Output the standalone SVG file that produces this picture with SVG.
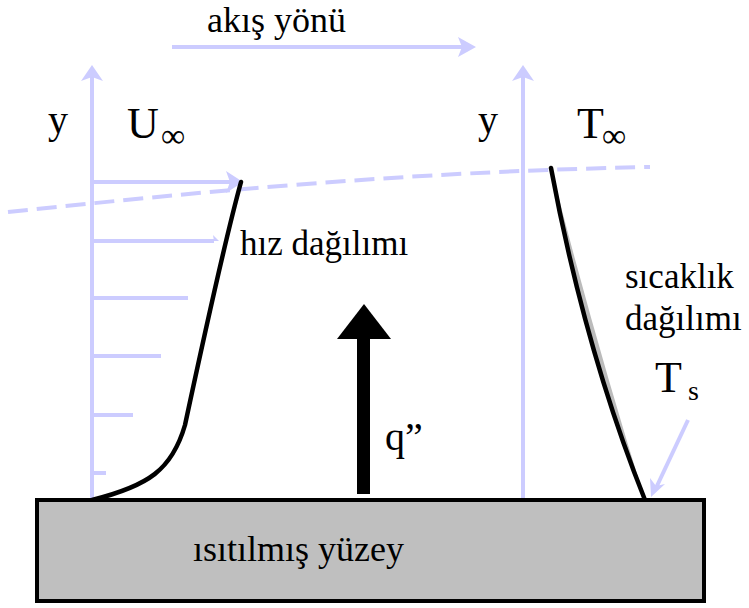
<svg xmlns="http://www.w3.org/2000/svg" width="749" height="608" viewBox="0 0 749 608">
<style>
text{font-family:'Liberation Serif','Times New Roman',serif;fill:#000}
.lv{stroke:#ccccff;stroke-width:4;fill:none}
.lvh{fill:#ccccff;stroke:none}
.bk{stroke:#000;stroke-width:4.5;fill:none;stroke-linecap:round}
</style>
<rect width="749" height="608" fill="#fff"/>
<g id="connectors">
  <line class="lv" x1="172" y1="47" x2="466" y2="47"/>
  <path class="lvh" d="M476,47 L458,37 L462,47 L458,57 Z"/>
  <line class="lv" x1="92" y1="500" x2="92" y2="74"/>
  <path class="lvh" d="M92,65 L81,81 L92,77 L103,81 Z"/>
  <line class="lv" x1="523" y1="500" x2="523" y2="74"/>
  <path class="lvh" d="M523,65 L512,81 L523,77 L534,81 Z"/>
  <line class="lv" x1="92" y1="182" x2="234" y2="182"/>
  <path class="lvh" d="M243,182 L226,171 L230,182 L226,193 Z"/>
  <line class="lv" x1="92" y1="241" x2="214" y2="241"/>
  <path class="lvh" d="M219,241 L213,235 L214,241 Z"/>
  <line class="lv" x1="92" y1="298" x2="188" y2="298"/>
  <line class="lv" x1="92" y1="356" x2="161" y2="356"/>
  <line class="lv" x1="92" y1="415" x2="133" y2="415"/>
  <line class="lv" x1="92" y1="473" x2="106" y2="473"/>
  <path class="lv" d="M8,212 C200,192 400,172 650,167" stroke-dasharray="20 9"/>
  <line class="lv" x1="688" y1="420" x2="656" y2="488"/>
  <path class="lvh" d="M651,497 L650,478 L656,486 L665,484 Z"/>
</g>
<g id="velocity-profile">
  <path class="bk" d="M92,500 C148,486 172,470 185,425 C200,355 225,240 241,182"/>
  <text x="240" y="255" font-size="35">hız dağılımı</text>
</g>
<g id="temperature-profile">
  <path d="M551,168 Q585,350 645,500 Q595,340 551,168 Z" fill="#bbbbbb"/>
  <path class="bk" d="M551,168 Q585,350 645,500"/>
  <text x="625" y="288" font-size="35">sıcaklık</text>
  <text x="625" y="330" font-size="35">dağılımı</text>
</g>
<g id="heat-flux">
  <rect x="357" y="334" width="13" height="160" fill="#000"/>
  <path d="M364,304 L337,339 L391,339 Z" fill="#000"/>
  <text x="385" y="450" font-size="40">q”</text>
</g>
<g id="surface">
  <rect x="37" y="500" width="667" height="101" fill="#bfbfbf" stroke="#000" stroke-width="4"/>
  <text x="193" y="561" font-size="36">ısıtılmış yüzey</text>
</g>
<g id="labels">
  <text x="207" y="32" font-size="36">akış yönü</text>
  <text x="48" y="133" font-size="40">y</text>
  <text x="127" y="138" font-size="44">U</text>
  <text x="161" y="147" font-size="34">∞</text>
  <text x="478" y="133" font-size="40">y</text>
  <text x="577" y="138" font-size="44">T</text>
  <text x="602" y="147" font-size="34">∞</text>
  <text x="655" y="392" font-size="44">T</text>
  <text x="688" y="400" font-size="28">s</text>
</g>
</svg>
